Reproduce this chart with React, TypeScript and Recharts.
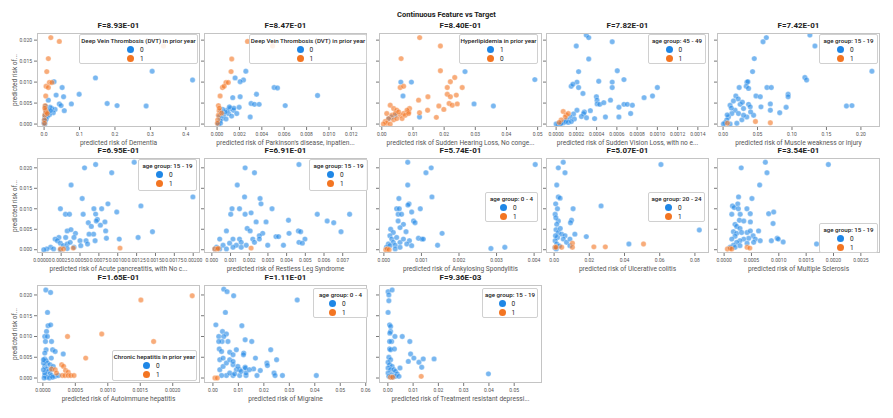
import React from "react";
import { Scatter, ScatterChart, XAxis, YAxis } from "recharts";

type Pt = [number, number];

const BLUE = "#1f87e6";
const ORANGE = "#f37522";

const mainTitle = "Continuous Feature vs Target";
const yLabel = "predicted risk of...";
const yTicks = [0, 0.005, 0.01, 0.015, 0.02];

const titles = [
  "F=8.93E-01", "F=8.47E-01", "F=8.40E-01", "F=7.82E-01", "F=7.42E-01",
  "F=6.95E-01", "F=6.91E-01", "F=5.74E-01", "F=5.07E-01", "F=3.54E-01",
  "F=1.65E-01", "F=1.11E-01", "F=9.36E-03",
];

const xLabels = [
  "predicted risk of Dementia",
  "predicted risk of Parkinson's disease, inpatien...",
  "predicted risk of Sudden Hearing Loss, No conge...",
  "predicted risk of Sudden Vision Loss, with no e...",
  "predicted risk of Muscle weakness or injury",
  "predicted risk of Acute pancreatitis, with No c...",
  "predicted risk of Restless Leg Syndrome",
  "predicted risk of Ankylosing Spondylitis",
  "predicted risk of Ulcerative colitis",
  "predicted risk of Multiple Sclerosis",
  "predicted risk of Autoimmune hepatitis",
  "predicted risk of Migraine",
  "predicted risk of  Treatment resistant depressi...",
];

const legendTitles = [
  "Deep Vein Thrombosis (DVT) in prior year",
  "Deep Vein Thrombosis (DVT) in prior year",
  "Hyperlipidemia in prior year",
  "age group:  45 -  49",
  "age group:  15 -  19",
  "age group:  15 -  19",
  "age group:  15 -  19",
  "age group:  0 -  4",
  "age group:  20 -  24",
  "age group:  15 -  19",
  "Chronic hepatitis in prior year",
  "age group:  0 -  4",
  "age group:  15 -  19",
];

// label of the blue class, then of the orange class
const legendLabels = [
  ["0", "1"], ["0", "1"], ["1", "0"], ["0", "1"], ["0", "1"],
  ["0", "1"], ["0", "1"], ["0", "1"], ["0", "1"], ["0", "1"],
  ["0", "1"], ["0", "1"], ["0", "1"],
];

const xTicks = [
  [0, 0.1, 0.2, 0.3, 0.4],
  [0, 0.002, 0.004, 0.006, 0.008, 0.01, 0.012],
  [0, 0.01, 0.02, 0.03, 0.04, 0.05],
  [0, 0.0002, 0.0004, 0.0006, 0.0008, 0.001, 0.0012, 0.0014],
  [0, 0.05, 0.1, 0.15, 0.2],
  [0, 0.00025, 0.0005, 0.00075, 0.001, 0.00125, 0.0015, 0.00175, 0.002],
  [0, 0.001, 0.002, 0.003, 0.004, 0.005, 0.006, 0.007],
  [0, 0.001, 0.002, 0.003, 0.004],
  [0, 0.02, 0.04, 0.06, 0.08],
  [0, 0.0005, 0.001, 0.0015, 0.002, 0.0025],
  [0, 0.0005, 0.001, 0.0015, 0.002],
  [0, 0.01, 0.02, 0.03, 0.04, 0.05, 0.06],
  [0, 0.01, 0.02, 0.03, 0.04, 0.05],
];
const xDigits = [1, 3, 2, 4, 2, 5, 3, 3, 2, 4, 4, 2, 2];

const dementia0: Pt[] = [
  [0.305, 0.0126], [0.419, 0.0105], [0.145, 0.011], [0.099, 0.0071], [0.028, 0.0101],
  [0.051, 0.0087], [0.034, 0.0069], [0.012, 0.0057], [0.055, 0.0065], [0.043, 0.0048],
  [0.048, 0.0044], [0.077, 0.0048], [0.178, 0.0049], [0.206, 0.0044], [0.288, 0.0043],
  [0.057, 0.0032], [0.031, 0.0035], [0.022, 0.0037], [0.017, 0.004], [0.026, 0.0027],
  [0.008, 0.0035], [0.005, 0.003], [0.004, 0.0025], [0.003, 0.002], [0.002, 0.0015],
  [0.001, 0.001], [0.001, 0.0005], [0.0, 0.0002], [0.002, 0.0], [0.012, 0.0028],
  [0.015, 0.0022], [0.009, 0.0018], [0.006, 0.0012], [0.018, 0.0032], [0.004, 0.0042],
  [0.003, 0.0008],
];
const dementia1: Pt[] = [
  [0.019, 0.0206], [0.043, 0.0197], [0.337, 0.0186], [0.012, 0.0156], [0.0076, 0.0125],
  [0.015, 0.0099], [0.022, 0.0099], [0.0057, 0.009], [0.012, 0.0087], [0.0047, 0.0067],
  [0.003, 0.0044], [0.004, 0.0033], [0.002, 0.0021], [0.001, 0.001], [0.001, 0.0002],
  [0.006, 0.0028], [0.009, 0.0025], [0.002, 0.0038],
];

const parkinson0: Pt[] = [
  [0.00257, 0.0126], [0.00161, 0.011], [0.00236, 0.0105], [0.00206, 0.0101], [0.00352, 0.0071],
  [0.0014, 0.0063], [0.00206, 0.0065], [0.0051, 0.0087], [0.0054, 0.0086], [0.00898, 0.0068],
  [0.00304, 0.0049], [0.00334, 0.0047], [0.00376, 0.0047], [0.00197, 0.004], [0.00609, 0.0044],
  [0.00296, 0.0017], [0.00117, 0.0037], [0.00087, 0.0033], [0.00102, 0.0025], [0.00057, 0.0021],
  [0.00042, 0.0013], [0.00027, 0.0008], [0.00012, 0.0003], [0.00146, 0.0033], [0.00176, 0.0025],
  [0.00072, 0.0029], [0.0013, 0.0019], [0.0005, 0.0035], [0.00035, 0.003], [0.0002, 0.0018],
  [0.0008, 0.0012], [0.0001, 0.0], [0.0003, 0.0002], [0.0015, 0.0038], [0.0011, 0.0041],
];
const parkinson1: Pt[] = [
  [0.00272, 0.0197], [0.00496, 0.0186], [0.00131, 0.0155], [0.00125, 0.0125], [0.0008, 0.0099],
  [0.001, 0.0099], [0.00048, 0.0087], [0.00063, 0.009], [0.00027, 0.0067], [0.00012, 0.0044],
  [0.00018, 0.0032], [0.00012, 0.0021], [0.00006, 0.001], [0.00003, 0.0002], [0.0004, 0.0026],
  [0.0002, 0.0038],
];

const hearingBlue: Pt[] = [
  [0.0061, 0.01], [0.0095, 0.01], [0.0068, 0.0067], [0.0267, 0.0125], [0.0491, 0.0106],
  [0.0296, 0.0048], [0.0358, 0.0043], [0.0121, 0.0017], [0.0032, 0.0017], [0.0022, 0.0013],
  [0.0043, 0.0021],
];
const hearingOrange: Pt[] = [
  [0.01215, 0.0206], [0.0188, 0.0186], [0.0062, 0.0156], [0.0188, 0.0127], [0.0234, 0.0111],
  [0.022, 0.0101], [0.0059, 0.0087], [0.007, 0.009], [0.021, 0.0087], [0.0258, 0.0087],
  [0.021, 0.0071], [0.022, 0.0065], [0.0239, 0.0069], [0.0148, 0.0065], [0.0118, 0.0057],
  [0.0216, 0.0049], [0.0226, 0.0045], [0.0242, 0.0048], [0.0183, 0.0043], [0.0199, 0.0035],
  [0.0147, 0.0033], [0.0089, 0.0037], [0.0086, 0.0029], [0.0121, 0.0027], [0.0175, 0.0016],
  [0.0027, 0.0045], [0.0038, 0.0037], [0.0048, 0.0033], [0.0016, 0.0025], [0.0032, 0.0021],
  [0.0059, 0.0021], [0.007, 0.0025], [0.0022, 0.0013], [0.0038, 0.001], [0.0011, 0.0006],
  [0.0016, 0.0002], [0.0027, 0.0], [0.0005, 0.0], [0.0048, 0.0013], [0.0065, 0.0013],
  [0.0081, 0.0033], [0.0075, 0.0021], [0.0043, 0.0025], [0.0054, 0.0029], [0.0086, 0.0025],
];

const vision0: Pt[] = [
  [0.000298, 0.0212], [0.000322, 0.0206], [0.000554, 0.0196], [0.000199, 0.0186], [0.000322, 0.0155],
  [0.000604, 0.0127], [0.000222, 0.0125], [0.00067, 0.0106], [0.000421, 0.0102], [0.000554, 0.01],
  [0.000206, 0.01], [0.000149, 0.009], [0.000166, 0.0095], [0.000222, 0.0087], [0.000554, 0.0087],
  [0.000265, 0.0073], [0.000398, 0.0065], [0.000404, 0.0057], [0.000537, 0.0057], [0.000405, 0.0048],
  [0.000431, 0.0047], [0.000471, 0.0051], [0.00067, 0.0047], [0.000703, 0.0047], [0.00062, 0.004],
  [0.000338, 0.0032], [0.000753, 0.0045], [0.000736, 0.0025], [0.000279, 0.0029], [0.000272, 0.0025],
  [0.000206, 0.0033], [0.000172, 0.0024], [0.000139, 0.0017], [0.000106, 0.001], [0.000073, 0.0003],
  [0.000023, 0.0], [0.0, 0.0], [0.00004, 0.0], [0.00009, 0.0006], [0.000487, 0.0017],
  [0.00038, 0.0013], [0.00062, 0.0017], [0.000869, 0.0063], [0.000952, 0.0067], [0.001, 0.0087],
  [0.00005, 0.0002], [0.00012, 0.0004], [0.00018, 0.0012], [0.00025, 0.0018], [0.0003, 0.0015],
  [0.00015, 0.0006],
];
const vision1: Pt[] = [
  [0.00007, 0.003], [0.0001, 0.0022], [0.00009, 0.0017], [0.00005, 0.001], [0.00012, 0.0025],
  [0.00003, 0.0004],
];

const muscle0: Pt[] = [
  [0.126, 0.0212], [0.1333, 0.0186], [0.0628, 0.0206], [0.058, 0.0196], [0.0453, 0.0156],
  [0.0428, 0.0125], [0.1187, 0.0111], [0.1212, 0.0105], [0.216, 0.0126], [0.0346, 0.01],
  [0.036, 0.0101], [0.0234, 0.0087], [0.0336, 0.009], [0.037, 0.0085], [0.0637, 0.0087],
  [0.07, 0.0087], [0.0185, 0.0067], [0.0477, 0.0067], [0.054, 0.0065], [0.0944, 0.0071],
  [0.0944, 0.0065], [0.0248, 0.0047], [0.037, 0.0047], [0.0102, 0.0045], [0.0297, 0.0037],
  [0.0394, 0.0041], [0.055, 0.0041], [0.0686, 0.0048], [0.0686, 0.0033], [0.0915, 0.004],
  [0.0822, 0.0027], [0.179, 0.0043], [0.187, 0.0044], [0.0175, 0.0033], [0.0224, 0.0025],
  [0.0127, 0.0025], [0.0078, 0.0017], [0.0054, 0.001], [0.0029, 0.0003], [0.0005, 0.0],
  [0.0102, 0.0], [0.02, 0.0002], [0.0273, 0.001], [0.0345, 0.0017], [0.0443, 0.0021],
  [0.0297, 0.0021], [0.015, 0.0055], [0.022, 0.006], [0.028, 0.0052], [0.012, 0.0038],
  [0.006, 0.0022], [0.04, 0.0029],
];
const muscle1: Pt[] = [[0.0063, 0.0002], [0.047, 0.0006], [0.0686, 0.0003]];

const pancreatitis0: Pt[] = [
  [0.001218, 0.02136], [0.000707, 0.0208], [0.00056, 0.02], [0.00092, 0.0188], [0.000382, 0.0158],
  [0.000529, 0.0125], [0.001996, 0.0129], [0.00024, 0.01], [0.000307, 0.00866], [0.00036, 0.00866],
  [0.000542, 0.00866], [0.00087, 0.0112], [0.000684, 0.01], [0.000787, 0.01], [0.000987, 0.0092],
  [0.001307, 0.0107], [0.000707, 0.0087], [0.00073, 0.0074], [0.000716, 0.007], [0.00061, 0.0066],
  [0.00083, 0.0068], [0.00065, 0.0057], [0.00077, 0.006], [0.00084, 0.0046], [0.00068, 0.0038],
  [0.00062, 0.0038], [0.00033, 0.0046], [0.00038, 0.0049], [0.00044, 0.004], [0.0005, 0.0022],
  [0.00058, 0.0022], [0.0007, 0.0022], [0.00085, 0.0028], [0.00102, 0.0026], [0.00127, 0.003],
  [0.00146, 0.0044], [0.00042, 0.003], [0.00031, 0.003], [0.00022, 0.003], [0.00017, 0.0026],
  [0.0002, 0.0022], [0.00024, 0.0016], [0.00028, 0.001], [0.00033, 0.0014], [0.00037, 0.0018],
  [0.00011, 0.0006], [0.00006, 0.0002], [0.00002, 0.0], [0.00015, 0.0002], [0.00024, 0.0],
  [0.00033, 0.0003], [0.00042, 0.0006], [0.00051, 0.001], [0.0006, 0.0014],
];
const pancreatitis1: Pt[] = [[0.00024, 0.00016], [0.00028, 0.00016], [0.00041, 0.0004], [0.00103, 0.0004]];

const restless0: Pt[] = [
  [0.00466, 0.0208], [0.00178, 0.02], [0.00228, 0.0188], [0.00136, 0.0158], [0.00175, 0.0129],
  [0.00258, 0.0125], [0.00263, 0.0112], [0.00108, 0.01], [0.00148, 0.01], [0.00322, 0.01],
  [0.00101, 0.00866], [0.00178, 0.00866], [0.0021, 0.009], [0.00564, 0.00866], [0.00737, 0.00866],
  [0.00237, 0.0068], [0.0029, 0.0068], [0.0041, 0.0072], [0.00617, 0.007], [0.00652, 0.0066],
  [0.00691, 0.0044], [0.00078, 0.0046], [0.00189, 0.0052], [0.00205, 0.0046], [0.00272, 0.004],
  [0.00254, 0.0034], [0.00343, 0.0032], [0.00357, 0.0032], [0.00383, 0.0011], [0.00413, 0.004],
  [0.00463, 0.0046], [0.00475, 0.0044], [0.00498, 0.0026], [0.00466, 0.0018], [0.00484, 0.0016],
  [0.00299, 0.0011], [0.00219, 0.0026], [0.00148, 0.0026], [0.00113, 0.0026], [0.00095, 0.0016],
  [0.00131, 0.0011], [0.00157, 0.0018], [0.00184, 0.0011], [0.00042, 0.0026], [0.0006, 0.0011],
  [0.00025, 0.0006], [0.00016, 0.0002], [0.00042, 0.0002], [0.00078, 0.0002], [0.00113, 0.0006],
  [0.00157, 0.0006], [0.00228, 0.0018], [0.00254, 0.0026],
];
const restless1: Pt[] = [[0.00016, 0.0002], [0.00028, 0.0002], [0.00034, 0.0003], [0.0021, 0.0004]];

const ankylosing0: Pt[] = [
  [0.000635, 0.02136], [0.00403, 0.0208], [0.00126, 0.02], [0.00112, 0.0188], [0.000635, 0.0158],
  [0.00128, 0.0129], [0.0004, 0.0125], [0.00067, 0.0112], [0.00064, 0.0109], [0.00097, 0.01],
  [0.00034, 0.01], [0.00041, 0.01], [0.00074, 0.0092], [0.00038, 0.00866], [0.00047, 0.00866],
  [0.00079, 0.007], [0.00083, 0.0066], [0.00038, 0.007], [0.00052, 0.0062], [0.00043, 0.0054],
  [0.00018, 0.005], [0.00025, 0.0042], [0.00059, 0.0044], [0.00155, 0.004], [0.00092, 0.0028],
  [0.00101, 0.0026], [0.00105, 0.0026], [0.00068, 0.0022], [0.00143, 0.0011], [0.00285, 0.0003],
  [0.00322, 0.0006], [0.00016, 0.0034], [0.00021, 0.0026], [0.00025, 0.0018], [0.00012, 0.0014],
  [0.00007, 0.0006], [0.00016, 0.001], [0.0003, 0.0011], [0.00034, 0.003], [0.00043, 0.0018],
  [0.00052, 0.0026], [0.00061, 0.0014], [0.00074, 0.001], [0.0003, 0.0002], [0.00043, 0.0006],
];
const ankylosing1: Pt[] = [[0.00005, 0.0], [0.00009, 0.0002], [0.00014, 0.0]];

const colitis0: Pt[] = [
  [0.0052, 0.02136], [0.0024, 0.02], [0.0062, 0.0188], [0.0015, 0.0158], [0.0024, 0.0129],
  [0.0034, 0.0126], [0.0009, 0.0112], [0.0019, 0.01], [0.0108, 0.01], [0.0267, 0.0107],
  [0.0006, 0.00866], [0.0024, 0.007], [0.0015, 0.0062], [0.0099, 0.0072], [0.0093, 0.0066],
  [0.0011, 0.0049], [0.0024, 0.0042], [0.0043, 0.0038], [0.0062, 0.0034], [0.0019, 0.003],
  [0.0006, 0.0022], [0.0015, 0.0014], [0.0052, 0.0026], [0.0071, 0.0018], [0.009, 0.0026],
  [0.0118, 0.0038], [0.0183, 0.0032], [0.009, 0.001], [0.0607, 0.0208], [0.0825, 0.0048],
  [0.0425, 0.0014], [0.0005, 0.0005], [0.0012, 0.0002], [0.003, 0.0009], [0.0008, 0.0034],
  [0.0035, 0.0052], [0.001, 0.0078],
];
const colitis1: Pt[] = [
  [0.0006, 0.0006], [0.0011, 0.0006], [0.0043, 0.0006], [0.0104, 0.0016], [0.0104, 0.0006],
  [0.0226, 0.0007], [0.0291, 0.0007], [0.0508, 0.0014],
];

const sclerosis0: Pt[] = [
  [0.000754, 0.02136], [0.001906, 0.0208], [0.000784, 0.0188], [0.000313, 0.02], [0.00065, 0.0158],
  [0.000264, 0.0129], [0.000509, 0.0125], [0.000153, 0.0107], [0.000184, 0.0103], [0.00025, 0.0112],
  [0.00026, 0.01], [0.000417, 0.01], [0.000815, 0.0088], [0.000907, 0.0092], [0.00014, 0.00866],
  [0.000294, 0.00866], [0.000478, 0.0088], [0.00028, 0.0072], [0.00036, 0.007], [0.00048, 0.0068],
  [0.000895, 0.0064], [0.0002, 0.0062], [0.00023, 0.0057], [0.00029, 0.0052], [0.00017, 0.0044],
  [0.00023, 0.004], [0.00032, 0.0042], [0.00042, 0.0042], [0.00048, 0.0046], [0.00063, 0.0046],
  [0.00053, 0.0034], [0.00057, 0.0026], [0.00045, 0.0028], [0.00036, 0.0026], [0.00029, 0.0022],
  [0.00023, 0.0018], [0.00017, 0.0011], [0.00011, 0.0006], [0.0002, 0.0006], [0.00029, 0.001],
  [0.00042, 0.0016], [0.00054, 0.0018], [0.00066, 0.0022], [0.000864, 0.0022], [0.00097, 0.0028],
  [0.00099, 0.0026], [0.00108, 0.0019], [0.00169, 0.0014], [0.0002, 0.0033], [0.00014, 0.0026],
];
const sclerosis1: Pt[] = [
  [0.00006, 0.00016], [0.00011, 0.0003], [0.00014, 0.00016], [0.00042, 0.0006], [0.00047, 0.0004],
];

const hepatitis0: Pt[] = [
  [0.000046, 0.0212], [0.000119, 0.0206], [0.000072, 0.0158], [0.00008, 0.0126], [0.00012, 0.0128],
  [0.000057, 0.0112], [0.00003, 0.01], [0.00007, 0.01], [0.000134, 0.0088], [0.00004, 0.0088],
  [0.00015, 0.0068], [0.00019, 0.0064], [0.00005, 0.0068], [0.00003, 0.006], [0.000314, 0.0058],
  [0.00003, 0.0046], [0.00005, 0.0042], [0.00007, 0.0036], [0.00011, 0.0032], [0.00003, 0.0028],
  [0.00006, 0.0022], [0.00008, 0.0016], [0.00011, 0.001], [0.00003, 0.0006], [0.00006, 0.0002],
  [0.00013, 0.002], [0.00016, 0.0028], [0.00013, 0.0006], [0.00019, 0.0004], [0.00003, 0.0012],
  [0.00001, 0.002], [0.00001, 0.0036], [0.00001, 0.0044], [0.00013, 0.0048], [0.00024, 0.0006],
  [0.00002, 0.0], [0.0001, 0.0], [0.00015, 0.0002],
];
const hepatitis1: Pt[] = [
  [0.0023, 0.0198], [0.00151, 0.0188], [0.000907, 0.0106], [0.00038, 0.01], [0.001706, 0.0088],
  [0.00066, 0.0048], [0.00029, 0.0032], [0.00032, 0.0028], [0.000134, 0.0022], [0.00035, 0.0018],
  [0.00039, 0.0014], [0.0003, 0.0006], [0.00034, 0.0006], [0.00039, 0.0006], [0.00043, 0.0006],
  [0.00048, 0.0006], [0.00019, 0.002], [0.00021, 0.0012],
];

const migraine0: Pt[] = [
  [0.00426, 0.0214], [0.00556, 0.0208], [0.00814, 0.0198], [0.0331, 0.0188], [0.0049, 0.0158],
  [0.00116, 0.0128], [0.01137, 0.0126], [0.00375, 0.0112], [0.0053, 0.0106], [0.0023, 0.01],
  [0.00426, 0.01], [0.0059, 0.0088], [0.0036, 0.0088], [0.0023, 0.0088], [0.01266, 0.0092],
  [0.01525, 0.0088], [0.0227, 0.0068], [0.0025, 0.007], [0.0034, 0.0064], [0.0092, 0.0068],
  [0.0066, 0.0062], [0.0079, 0.0056], [0.0121, 0.006], [0.012, 0.0056], [0.0167, 0.0048],
  [0.0212, 0.0036], [0.0214, 0.003], [0.025, 0.0044], [0.01266, 0.0026], [0.0127, 0.0024],
  [0.016, 0.0022], [0.0186, 0.0018], [0.024, 0.0012], [0.0244, 0.0006], [0.0273, 0.0006],
  [0.0406, 0.0006], [0.0173, 0.0006], [0.013, 0.0006], [0.0105, 0.0006], [0.0079, 0.0006],
  [0.0053, 0.0006], [0.0034, 0.0006], [0.0027, 0.002], [0.004, 0.0028], [0.0053, 0.0036],
  [0.0066, 0.0044], [0.0079, 0.0032], [0.0092, 0.002], [0.0105, 0.002], [0.0027, 0.0044],
  [0.004, 0.0048], [0.0079, 0.004], [0.0098, 0.0028], [0.0111, 0.0016], [0.0066, 0.0012],
  [0.0085, 0.001], [0.013, 0.0012], [0.0143, 0.002],
];
const migraine1: Pt[] = [[0.0008, 0.0], [0.0017, 0.0]];

const depression0: Pt[] = [
  [0.0001, 0.0208], [0.0017, 0.0212], [0.0004, 0.02], [0.0004, 0.0186], [0.0001, 0.0158],
  [0.0007, 0.0128], [0.0011, 0.0124], [0.0011, 0.0112], [0.0008, 0.0108], [0.0015, 0.0088],
  [0.0007, 0.0088], [0.0028, 0.01], [0.0057, 0.01], [0.0087, 0.0088], [0.0007, 0.007],
  [0.0011, 0.0068], [0.0026, 0.007], [0.009, 0.0058], [0.0081, 0.004], [0.0103, 0.0048],
  [0.0123, 0.0038], [0.014, 0.0046], [0.0183, 0.0046], [0.0048, 0.0024], [0.0134, 0.0026],
  [0.0398, 0.001], [0.0004, 0.005], [0.0011, 0.0044], [0.0001, 0.0038], [0.0007, 0.0032],
  [0.0017, 0.0028], [0.0001, 0.0024], [0.0011, 0.002], [0.0024, 0.002], [0.003, 0.0016],
  [0.0001, 0.0012], [0.0015, 0.0008], [0.0037, 0.001], [0.0004, 0.0004], [0.0017, 0.0002],
  [0.003, 0.0004], [0.0044, 0.0004],
];
const depression1: Pt[] = [[0.0132, 0.0004], [0.001, 0.0002], [0.0019, 0.0002]];

const blueSets = [
  dementia0, parkinson0, hearingBlue, vision0, muscle0,
  pancreatitis0, restless0, ankylosing0, colitis0, sclerosis0,
  hepatitis0, migraine0, depression0,
];
const orangeSets = [
  dementia1, parkinson1, hearingOrange, vision1, muscle1,
  pancreatitis1, restless1, ankylosing1, colitis1, sclerosis1,
  hepatitis1, migraine1, depression1,
];

// layout ---------------------------------------------------------------
const colX = [37, 204, 379, 546, 717];
const rowY = [33, 158, 285];
const rowH = [94, 95, 98];
const rowYDomain: [number, number][] = [
  [-0.0007, 0.0217],
  [-0.0008, 0.0224],
  [-0.0012, 0.0224],
];
const PW = 163;
const xDomains: [number, number][] = [
  [-0.02, 0.44],
  [-0.00117, 0.0134],
  [-0.0009, 0.0514],
  [-0.0001, 0.00151],
  [-0.0088, 0.2277],
  [-0.00007, 0.00209],
  [-0.00042, 0.0083],
  [-0.00013, 0.00421],
  [-0.0046, 0.088],
  [-0.00013, 0.00285],
  [-0.00009, 0.00242],
  [-0.0035, 0.0605],
  [-0.0035, 0.061],
];
// legend boxes: left, top, width, height (page pixels)
const legendBoxes = [
  [79, 34, 119, 30], [249, 34, 118, 30], [459, 34, 79, 30], [648, 34, 58, 30], [819, 34, 59, 30],
  [138, 159, 59, 32], [309, 159, 59, 32], [485, 192, 53, 30], [648, 192, 57, 30], [819, 223, 59, 30],
  [112, 350, 85, 31], [313, 288, 55, 30], [482, 288, 56, 30],
];

const FONT = "Roboto, 'DejaVu Sans', sans-serif";

const toPts = (arr: Pt[]) => arr.map(([x, y]) => ({ x, y }));

const dot = (color: string) => (props: any) => (
  <circle cx={props.cx} cy={props.cy} r={2.7} fill={color} fillOpacity={0.6} stroke="#fff" strokeWidth={0.3} />
);

function Legend({ i }: { i: number }) {
  const [l, t, w, h] = legendBoxes[i];
  const row = (color: string, label: string) => (
    <div style={{ display: "flex", alignItems: "center", justifyContent: "center", height: 9 }}>
      <span style={{ width: 7, height: 7, borderRadius: "50%", background: color, display: "inline-block" }} />
      <span style={{ width: 10, marginLeft: 6, fontSize: 6.5, color: "#222" }}>{label}</span>
    </div>
  );
  return (
    <div
      style={{
        position: "absolute", left: l, top: t, width: w, height: h, boxSizing: "border-box",
        background: "rgba(255,255,255,0.82)", border: "1px solid #d0d0d0", borderRadius: 2,
        fontFamily: FONT, paddingTop: 2,
      }}
    >
      <div style={{ fontSize: 6.2, fontWeight: 500, color: "#222", textAlign: "center", lineHeight: "8px", whiteSpace: "nowrap" }}>
        {legendTitles[i]}
      </div>
      {row(BLUE, legendLabels[i][0])}
      {row(ORANGE, legendLabels[i][1])}
    </div>
  );
}

function Panel({ i }: { i: number }) {
  const r = Math.floor(i / 5);
  const c = i % 5;
  const left = colX[c];
  const top = rowY[r];
  const h = rowH[r];
  const first = c === 0;
  const yw = first ? 30 : 4;
  const xh = 14;
  const rm = 10;
  const digits = xDigits[i];
  return (
    <>
      <div style={{ position: "absolute", left: left - yw, top }}>
        <ScatterChart width={PW + yw + rm} height={h + xh} margin={{ top: 0, right: rm, bottom: 0, left: 0 }}>
          <XAxis
            type="number"
            dataKey="x"
            domain={xDomains[i]}
            ticks={xTicks[i]}
            allowDataOverflow
            interval={0}
            height={xh}
            axisLine={false}
            tickSize={3}
            tickLine={{ stroke: "#777" }}
            tick={{ fontSize: 5, fill: "#555", fontFamily: FONT }}
            tickFormatter={(v: number) => v.toFixed(digits)}
          />
          <YAxis
            type="number"
            dataKey="y"
            domain={rowYDomain[r]}
            ticks={yTicks}
            allowDataOverflow
            interval={0}
            width={yw}
            axisLine={false}
            tickSize={3}
            tickLine={{ stroke: "#777" }}
            tick={{ fontSize: 5, fill: "#555", fontFamily: FONT }}
            tickFormatter={(v: number) => (first ? v.toFixed(3) : "")}
          />
          <Scatter data={toPts(blueSets[i])} fill={BLUE} shape={dot(BLUE)} isAnimationActive={false} />
          <Scatter data={toPts(orangeSets[i])} fill={ORANGE} shape={dot(ORANGE)} isAnimationActive={false} />
        </ScatterChart>
        <div
          style={{
            position: "absolute", left: yw, top: 0, width: PW, height: h, boxSizing: "border-box",
            border: "1px solid #c4c4c4", pointerEvents: "none",
          }}
        />
      </div>
      <div
        style={{
          position: "absolute", left, top: top - 11, width: PW, textAlign: "center",
          fontFamily: FONT, fontSize: 8, fontWeight: 700, color: "#222", lineHeight: "8px",
        }}
      >
        {titles[i]}
      </div>
      <div
        style={{
          position: "absolute", left: left - 10, top: top + h + 13, width: PW + 20, textAlign: "center",
          fontFamily: FONT, fontSize: 6.6, color: "#555", lineHeight: "7px", whiteSpace: "nowrap",
        }}
      >
        {xLabels[i]}
      </div>
      {first && (
        <div
          style={{
            position: "absolute", left: 15 - 40, top: top + h / 2 - 4, width: 80, textAlign: "center",
            transform: "rotate(-90deg)", fontFamily: FONT, fontSize: 6.5, color: "#555", lineHeight: "8px",
          }}
        >
          {yLabel}
        </div>
      )}
      <Legend i={i} />
    </>
  );
}

export default function App() {
  return (
    <div style={{ position: "absolute", left: 0, top: 0, width: 893, height: 418, background: "#fff", overflow: "hidden" }}>
      <div
        style={{
          position: "absolute", left: 0, top: 10, width: 893, textAlign: "center",
          fontFamily: FONT, fontSize: 7.5, fontWeight: 700, color: "#222", lineHeight: "10px",
        }}
      >
        {mainTitle}
      </div>
      {titles.map((_, i) => (
        <Panel key={i} i={i} />
      ))}
    </div>
  );
}
